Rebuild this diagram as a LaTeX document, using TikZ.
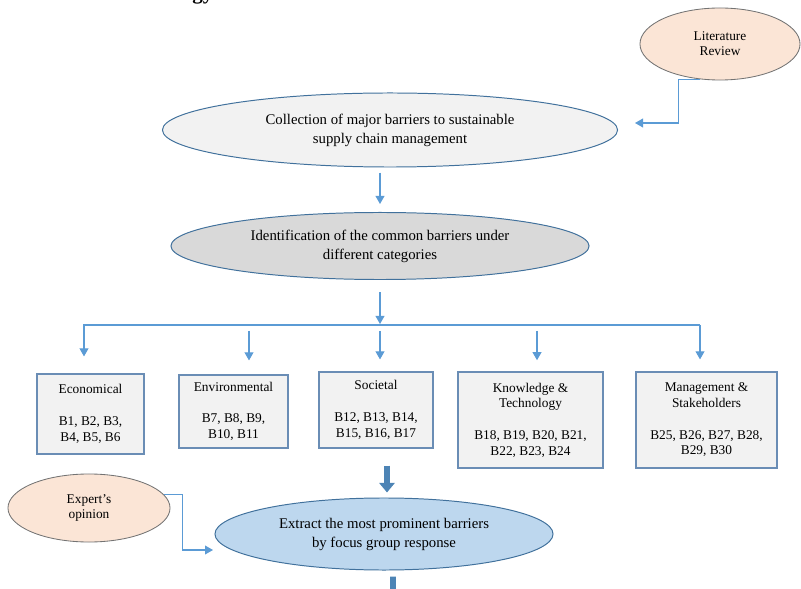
\documentclass[tikz,border=0pt]{standalone}
\usepackage{fontspec}
\setmainfont{Liberation Serif}
\usetikzlibrary{arrows.meta, shapes.geometric}
\definecolor{edgeblue}{HTML}{41719C}
\definecolor{boxedge}{HTML}{6A8DB5}
\definecolor{arrowblue}{HTML}{5B9BD5}
\definecolor{lightgrey}{HTML}{F2F2F2}
\definecolor{midgrey}{HTML}{D9D9D9}
\definecolor{peach}{HTML}{FBE5D6}
\definecolor{paleblue}{HTML}{BDD7EE}
\tikzstyle{stage} = [ellipse, draw=edgeblue, line width=0.7pt, inner sep=0pt, align=center, font=\fontsize{10.5}{13.5}\selectfont]
\tikzstyle{source} = [ellipse, draw=black!55, fill=peach, line width=0.6pt, inner sep=0pt, align=center, minimum width=4cm, minimum height=1.8cm, font=\fontsize{9.5}{10.6}\selectfont]
\tikzstyle{category} = [rectangle, draw=boxedge, fill=lightgrey, line width=0.8pt, inner sep=2pt, align=center, font=\fontsize{9.5}{11.3}\selectfont]
\tikzstyle{arrow} = [draw=arrowblue, line width=0.8pt, -{Triangle[width=0.22cm, length=0.2cm]}]
\tikzstyle{fatarrow} = [draw=arrowblue!85!black, line width=4.2pt, -{Triangle[width=0.38cm, length=0.24cm]}]

\begin{document}
\begin{tikzpicture}[x=0.025cm, y=-0.025cm]
        \useasboundingbox (0,0) rectangle (801,589);

        \node[anchor=base west, inner sep=0pt, font=\fontsize{15}{15}\selectfont\bfseries] (title) at (192,0) {gy};

        \node[source]                                                             (lit)     at (720,44)    {Literature\\Review};
        \node[stage, fill=lightgrey, minimum width=11.375cm, minimum height=1.85cm] (coll)    at (390,130)   {Collection of major barriers to sustainable\\supply chain management};
        \node[stage, fill=midgrey, minimum width=10.45cm, minimum height=1.675cm]   (ident)   at (380,246)   {Identification of the common barriers under\\different categories};

        \node[category, minimum width=2.675cm, minimum height=2cm]    (econ)  at (90.5,414)  {Economical\\[11pt]B1, B2, B3,\\B4, B5, B6};
        \node[category, minimum width=2.725cm, minimum height=1.825cm] (env)   at (233.5,411.5) {Environmental\\[11pt]B7, B8, B9,\\B10, B11};
        \node[category, minimum width=2.85cm, minimum height=1.9cm]    (soc)   at (376,410)   {Societal\\[11pt]B12, B13, B14,\\B15, B16, B17};
        \node[category, minimum width=3.625cm, minimum height=2.4cm]   (know)  at (530.5,420) {Knowledge \&\\Technology\\[11pt]B18, B19, B20, B21,\\B22, B23, B24};
        \node[category, minimum width=3.525cm, minimum height=2.4cm]   (mgmt)  at (706.5,420) {Management \&\\Stakeholders\\[11pt]B25, B26, B27, B28,\\B29, B30};

        \node[source, minimum width=4.05cm, minimum height=1.7cm]                  (expert)  at (89,508)    {Expert’s\\opinion};
        \node[stage, fill=paleblue, minimum width=8.45cm, minimum height=1.8cm]     (extract) at (384,534)   {Extract the most prominent barriers\\by focus group response};

        % free ends and bus points
        \coordinate (litin)    at (635,123);
        \coordinate (expin)    at (213,550);
        \coordinate (bus)      at (380,324);
        \coordinate (busL)     at (84,325);
        \coordinate (busR)     at (700,325);
        \coordinate (tapenv)   at (249,331);
        \coordinate (tapsoc)   at (380,331);
        \coordinate (tapknow)  at (537,331);
        \coordinate (socout)   at ([xshift=0.275cm]soc.south);
        \coordinate (nextstep) at (393,612);

        \draw[arrow] (lit.240) -- ++(-21,0) |- (litin);
        \draw[arrow, shorten <=0.125cm, shorten >=0.2cm] (coll.south -| ident.north) -- (ident.north);
        \draw[arrow, shorten <=0.3cm] (ident) -- (bus);
        \draw[arrow, shorten >=0.425cm] (busR) -- (busL) -- (busL |- econ.north);
        \draw[arrow, shorten >=0.3cm] (busR) -- (busR |- mgmt.north);
        \draw[arrow, shorten >=0.35cm] (tapenv) -- (tapenv |- env.north);
        \draw[arrow, shorten >=0.3cm] (tapsoc) -- (tapsoc |- soc.north);
        \draw[arrow, shorten >=0.28cm] (tapknow) -- (tapknow |- know.north);
        \draw[arrow] (expert.10) -- ++(18,0) |- (expin);

        \draw[fatarrow, shorten <=0.425cm, shorten >=0.125cm] (socout) -- (socout |- extract.north);
        \draw[fatarrow, shorten <=0.15cm] ([xshift=0.225cm]extract.south) -- (nextstep);
    \end{tikzpicture}
\end{document}
